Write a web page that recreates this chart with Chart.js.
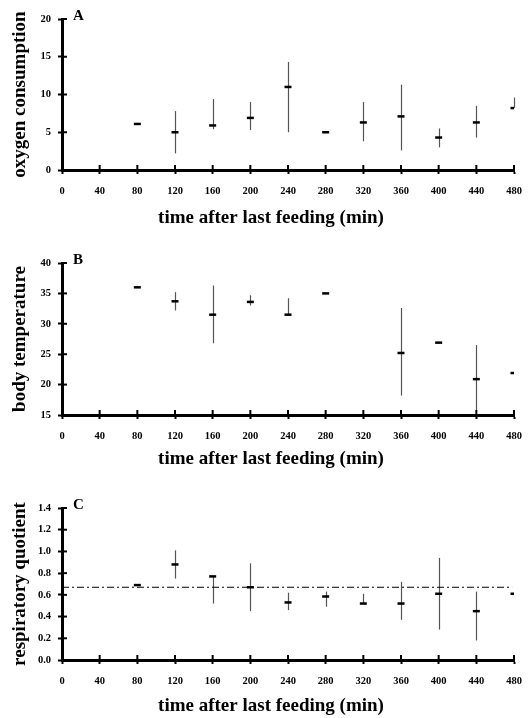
<!DOCTYPE html>
<html>
<head>
<meta charset="utf-8">
<script src="https://cdn.jsdelivr.net/npm/chart.js@4.4.1/dist/chart.umd.min.js"></script>
<style>
  html, body { margin: 0; padding: 0; background: #fff; }
  #wrap { position: relative; width: 529px; height: 718px; overflow: hidden; }
  canvas { position: absolute; left: 0; }
</style>
</head>
<body>
<div id="wrap">
  <canvas id="chartA" width="529" height="228" style="top:0px"></canvas>
  <canvas id="chartB" width="529" height="233" style="top:240px"></canvas>
  <canvas id="chartC" width="529" height="238" style="top:480px"></canvas>
</div>
<script>
// ─── DATA ─────────────────────────────────────────────
const xTicks = [0, 40, 80, 120, 160, 200, 240, 280, 320, 360, 400, 440, 480];

// A: oxygen consumption
const timesA = [80, 120, 160, 200, 240, 280, 320, 360, 400, 440, 480];
const o2Mean = [6.1, 5.0, 5.9, 6.9, 11.0, 5.0, 6.3, 7.1, 4.3, 6.3, 8.2];
const o2Lo   = [null, 2.2, 5.4, 5.3, 5.0, null, 3.8, 2.6, 3.0, 4.3, null];
const o2Hi   = [null, 7.8, 9.4, 9.0, 14.3, null, 9.0, 11.3, 5.5, 8.5, 9.6];

// B: body temperature
const timesB = [80, 120, 160, 200, 240, 280, 360, 400, 440, 480];
const tbMean = [36.0, 33.7, 31.5, 33.6, 31.5, 35.0, 25.2, 26.9, 20.9, 21.9];
const tbLo   = [null, 32.2, 26.8, 33.0, null, null, 18.2, null, 15.6, null];
const tbHi   = [null, 35.2, 36.3, 34.7, 34.2, null, 32.6, null, 26.5, null];

// C: respiratory quotient
const timesC = [80, 120, 160, 200, 240, 280, 320, 360, 400, 440, 480];
const rqMean = [0.69, 0.88, 0.77, 0.67, 0.53, 0.585, 0.52, 0.52, 0.61, 0.45, 0.61];
const rqLo   = [null, 0.75, 0.52, 0.45, 0.46, 0.49, null, 0.37, 0.28, 0.18, null];
const rqHi   = [null, 1.01, null, 0.89, 0.62, 0.63, 0.61, 0.72, 0.94, 0.63, null];
const rqRef  = 0.67;

const xTitle = 'time after last feeding (min)';
const SERIF = "'Liberation Serif', 'Times New Roman', serif";

// ─── PANEL BUILDER ────────────────────────────────────
function makePanel(id, p) {
    const ctx = document.getElementById(id).getContext('2d');

    // error bars, inward tick halves, panel letter and x title
    const decor = {
        id: 'decor',
        beforeDatasetsDraw(chart) {
            const { ctx, scales: { x, y } } = chart;
            ctx.save();
            ctx.strokeStyle = '#555';
            ctx.lineWidth = 1.2;
            p.times.forEach((t, i) => {
                const lo = p.lo[i] ?? p.mean[i];
                const hi = p.hi[i] ?? p.mean[i];
                if (lo === hi) return;
                const px = Math.round(x.getPixelForValue(t)) + 0.5;
                ctx.beginPath();
                ctx.moveTo(px, y.getPixelForValue(lo));
                ctx.lineTo(px, y.getPixelForValue(hi));
                ctx.stroke();
            });
            ctx.strokeStyle = '#000';
            ctx.lineWidth = 2;
            x.ticks.forEach(tk => {
                const px = x.getPixelForValue(tk.value);
                ctx.beginPath();
                ctx.moveTo(px, y.bottom);
                ctx.lineTo(px, y.bottom - 5);
                ctx.stroke();
            });
            y.ticks.forEach(tk => {
                const py = y.getPixelForValue(tk.value);
                ctx.beginPath();
                ctx.moveTo(x.left, py);
                ctx.lineTo(x.left + 5, py);
                ctx.stroke();
            });
            ctx.restore();
        },
        afterDraw(chart) {
            const { ctx, chartArea } = chart;
            ctx.save();
            ctx.fillStyle = '#000';
            ctx.font = `bold 15px ${SERIF}`;
            ctx.textBaseline = 'alphabetic';
            ctx.fillText(p.letter, chartArea.left + 11, chartArea.top + 1);
            // x-axis title sits a little left of the plot centre
            ctx.font = `bold 19px ${SERIF}`;
            ctx.textAlign = 'center';
            ctx.textBaseline = 'middle';
            ctx.fillText(xTitle, 271, chartArea.bottom + p.titleGap);
            ctx.restore();
        }
    };

    const datasets = [{
        data: p.times.map((t, i) => ({ x: t, y: p.mean[i] })),
        showLine: false,
        pointStyle: 'line',
        pointRadius: 3.5,
        pointBorderWidth: 2.5,
        borderColor: '#000',
        backgroundColor: '#000',
    }];

    if (p.ref != null) {
        datasets.push({
            data: [{ x: 0, y: p.ref }, { x: 478, y: p.ref }],
            showLine: true,
            borderColor: '#000',
            borderWidth: 1,
            borderDash: [7, 3, 2, 3],
            pointRadius: 0,
        });
    }

    return new Chart(ctx, {
        type: 'scatter',
        data: { datasets },
        options: {
            responsive: false,
            animation: false,
            events: [],
            layout: { padding: { top: p.padTop, right: 15, left: 0, bottom: 0 } },
            plugins: { legend: { display: false }, tooltip: { enabled: false } },
            scales: {
                x: {
                    type: 'linear',
                    min: 0, max: 480,
                    afterBuildTicks: s => { s.ticks = xTicks.map(v => ({ value: v })); },
                    afterFit: s => {
                        s.height = 58;
                        s.paddingLeft = 0;
                        s.paddingRight = 0;
                    },
                    grid: {
                        drawOnChartArea: false,
                        drawTicks: true,
                        tickLength: 4,
                        tickWidth: 2,
                        tickColor: '#000',
                    },
                    border: { display: true, color: '#000', width: 3 },
                    ticks: {
                        color: '#000',
                        padding: 11,
                        maxRotation: 0,
                        autoSkip: false,
                        font: { family: SERIF, size: 10.5, weight: 'bold' },
                    },
                },
                y: {
                    min: p.yMin, max: p.yMax,
                    afterFit: s => { s.width = 62; },
                    grid: {
                        drawOnChartArea: false,
                        drawTicks: true,
                        tickLength: 4,
                        tickWidth: 2,
                        tickColor: '#000',
                    },
                    border: { display: true, color: '#000', width: 3 },
                    ticks: {
                        stepSize: p.yStep,
                        color: '#000',
                        padding: 7,
                        font: { family: SERIF, size: 10.5, weight: 'bold' },
                        callback: v => v.toFixed(p.decimals),
                    },
                    title: {
                        display: true,
                        text: p.yTitle,
                        color: '#000',
                        padding: { top: 9, bottom: 0 },
                        font: { family: SERIF, size: 19, weight: 'bold' },
                    },
                },
            },
        },
        plugins: [decor],
    });
}

makePanel('chartA', {
    letter: 'A', yTitle: 'oxygen consumption',
    yMin: 0, yMax: 20, yStep: 5, decimals: 0, padTop: 19, titleGap: 48,
    times: timesA, mean: o2Mean, lo: o2Lo, hi: o2Hi,
});

makePanel('chartB', {
    letter: 'B', yTitle: 'body temperature',
    yMin: 15, yMax: 40, yStep: 5, decimals: 0, padTop: 23, titleGap: 44,
    times: timesB, mean: tbMean, lo: tbLo, hi: tbHi,
});

makePanel('chartC', {
    letter: 'C', yTitle: 'respiratory quotient',
    yMin: 0, yMax: 1.4, yStep: 0.2, decimals: 1, padTop: 28, titleGap: 46,
    times: timesC, mean: rqMean, lo: rqLo, hi: rqHi, ref: rqRef,
});
</script>
</body>
</html>
